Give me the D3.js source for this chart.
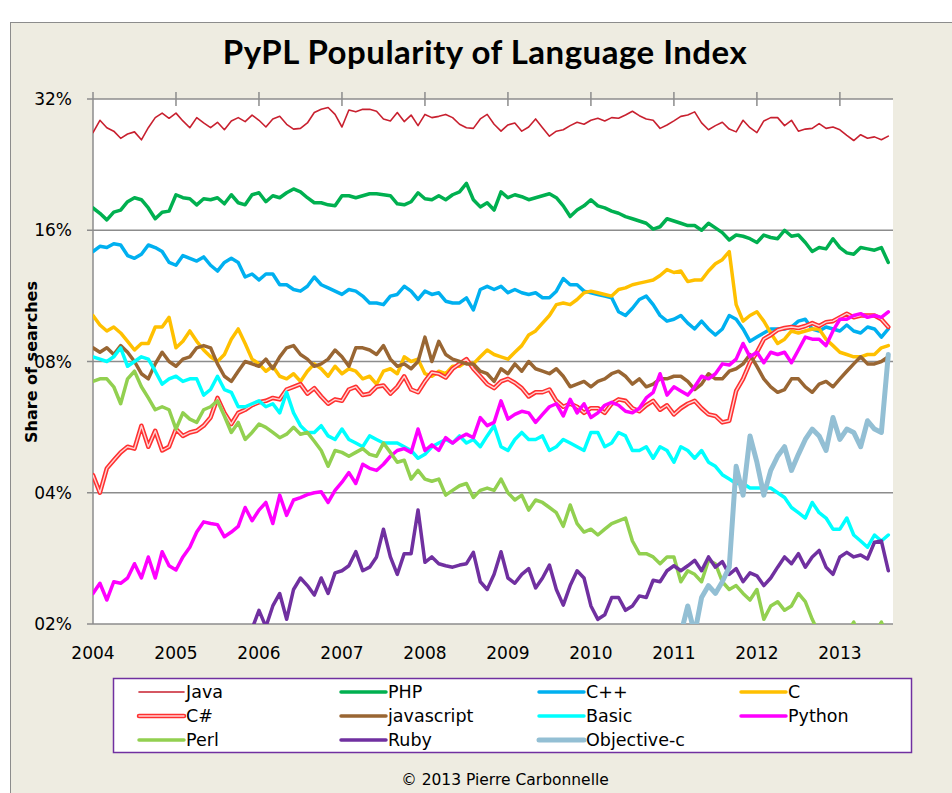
<!DOCTYPE html>
<html>
<head>
<meta charset="utf-8">
<script src="https://cdn.jsdelivr.net/npm/d3@7/dist/d3.min.js"></script>
<style>
body { margin: 0; background: #fff; }
text { font-family: "DejaVu Sans", sans-serif; fill: #000; }
.title { font-family: Lato, sans-serif; font-weight: bold; font-size: 33px; letter-spacing: 0.5px; }
.axisLabel { font-size: 17px; }
.yTitle { font-weight: bold; font-size: 16px; }
.legendText { font-size: 17.5px; }
.note { font-size: 15.5px; }
.grid { stroke: #8c8c8c; stroke-width: 1.5; }
.series { fill: none; stroke-linejoin: round; stroke-linecap: round; }
</style>
</head>
<body>
<svg id="chart" width="952" height="793"></svg>
<script>
// monthly share of searches (%), first value = Jan 2004 unless a start month is given
var years = [2004, 2005, 2006, 2007, 2008, 2009, 2010, 2011, 2012, 2013];
var yTicks = [2, 4, 8, 16, 32];

var javaShare = [
	26.8,28.6,27.5,27.0,26.0,26.6,26.9,25.8,27.5,29.0,
	29.7,28.9,29.7,28.5,27.5,29.0,28.2,27.5,28.3,27.2,
	28.5,29.0,28.4,29.4,28.6,27.6,28.8,29.2,28.0,27.3,
	27.4,28.2,29.8,30.3,30.6,29.5,27.6,30.2,29.9,30.3,
	30.3,30.0,28.8,28.5,29.8,28.4,29.4,27.8,29.5,29.0,
	29.2,29.5,29.0,28.0,27.5,27.4,28.8,29.5,28.0,27.0,
	27.9,28.2,27.0,27.6,28.8,27.5,26.3,27.0,27.2,27.8,
	28.3,28.0,28.6,28.9,28.5,29.0,28.9,29.4,30.0,29.3,
	28.8,28.6,27.4,27.9,28.5,29.2,29.4,29.9,28.2,27.2,
	27.8,28.3,27.3,26.9,28.6,27.5,26.8,28.5,29.0,29.0,
	27.8,28.6,27.0,27.3,27.4,28.1,27.4,27.6,27.2,26.4,
	25.7,26.5,26.0,26.2,25.8,26.3];

var phpShare = [
	18.0,17.5,16.9,17.6,17.8,18.6,19.0,18.8,18.0,17.0,
	17.6,17.7,19.3,19.0,18.9,18.3,18.9,18.8,19.0,18.4,
	19.3,18.5,18.3,19.3,19.5,18.6,19.2,19.0,19.5,19.9,
	19.6,19.0,18.5,18.5,18.3,18.2,19.2,19.2,19.0,19.2,
	19.4,19.4,19.3,19.2,18.4,18.3,18.6,19.5,18.9,18.8,
	19.2,18.8,19.3,19.6,20.5,18.8,18.1,18.5,17.8,19.6,
	19.0,19.3,19.1,18.8,19.0,19.2,19.4,19.0,18.2,17.2,
	17.8,18.2,18.8,18.2,18.0,17.7,17.5,17.2,17.0,16.8,
	16.6,16.1,16.3,17.0,16.8,16.6,16.4,16.4,16.0,16.6,
	16.2,15.8,15.2,15.6,15.5,15.3,15.0,15.6,15.4,15.3,
	16.0,15.5,15.6,15.0,14.3,14.6,14.5,15.3,14.6,14.2,
	14.1,14.6,14.5,14.4,14.6,13.5];

var cppShare = [
	14.3,14.7,14.6,14.9,14.8,14.0,13.8,14.1,14.8,14.6,
	14.3,13.5,13.3,14.0,13.8,13.6,13.9,13.3,12.9,13.5,
	13.8,13.5,12.5,12.7,12.3,12.7,12.7,12.0,12.0,11.7,
	11.6,11.9,12.5,12.0,11.8,11.6,11.4,11.7,11.6,11.3,
	10.9,10.9,10.8,11.3,11.4,11.9,11.6,11.1,11.6,11.4,
	11.5,11.0,10.9,10.9,11.2,10.5,11.7,11.9,11.7,11.9,
	11.5,11.7,11.5,11.4,11.5,11.2,11.2,11.6,12.4,12.0,
	12.0,11.6,11.5,11.4,11.3,11.2,10.4,10.2,10.6,11.1,
	11.3,10.8,10.2,9.9,10.0,10.2,9.8,9.5,9.9,9.5,
	9.2,9.5,10.2,10.0,9.5,8.9,9.1,9.3,9.5,9.5,
	9.5,9.6,9.9,10.0,9.5,9.4,9.6,9.5,9.4,9.7,
	9.4,9.3,9.6,9.5,9.1,9.5];

var cShare = [
	10.2,9.7,9.4,9.6,9.3,8.9,8.5,8.8,8.8,9.6,
	9.6,10.1,8.6,8.9,9.4,8.9,8.5,8.2,8.0,8.3,
	9.0,9.5,8.8,8.1,7.9,7.6,7.8,7.4,7.3,7.5,
	7.2,7.6,7.9,7.7,7.4,7.8,7.5,7.7,7.6,7.3,
	7.4,7.1,7.6,7.7,7.5,8.2,8.0,8.1,7.5,7.4,
	7.6,7.5,7.8,7.8,8.0,7.9,8.2,8.5,8.3,8.2,
	8.1,8.4,8.7,9.2,9.4,9.8,10.2,10.8,10.9,10.8,
	11.1,11.5,11.6,11.5,11.4,11.3,11.7,11.8,12.0,12.1,
	12.2,12.3,12.6,13.0,12.8,12.9,12.2,12.3,12.3,12.9,
	13.4,13.7,14.3,10.8,9.9,10.2,10.4,9.9,9.3,8.8,
	9.0,9.4,9.3,9.4,9.5,9.5,9.0,8.7,8.4,8.3,
	8.2,8.2,8.3,8.3,8.6,8.7];

var csharpShare = [
	4.39,4.00,4.55,4.75,4.95,5.10,5.05,5.70,5.10,5.55,
	5.00,5.10,5.60,5.40,5.50,5.55,5.70,5.95,6.60,6.10,
	5.75,6.10,6.20,6.35,6.45,6.50,6.60,6.55,6.90,7.00,
	7.10,6.75,6.95,6.65,6.40,6.55,6.50,6.90,7.00,6.70,
	6.75,7.00,7.05,6.75,7.00,7.40,6.90,6.80,7.20,7.55,
	7.50,7.35,7.70,7.90,8.10,7.70,7.40,7.10,6.95,7.20,
	7.30,7.15,6.95,6.65,6.80,6.80,6.90,6.50,6.30,6.40,
	6.30,6.10,6.25,6.25,6.10,6.40,6.55,6.50,6.25,6.15,
	6.35,6.50,6.20,6.35,6.05,6.25,6.40,6.50,6.25,6.05,
	6.00,5.80,5.85,6.85,7.30,7.95,8.40,9.00,9.20,9.45,
	9.55,9.60,9.55,9.65,9.80,9.65,9.85,9.90,10.1,10.3,
	10.1,10.2,10.2,10.2,10.0,9.6];

var jsShare = [
	8.6,8.4,8.6,8.3,8.7,8.4,8.0,7.5,7.3,7.9,
	8.4,8.0,7.8,8.1,8.2,8.6,8.7,8.6,7.9,7.4,
	7.2,7.6,8.0,7.9,7.8,8.1,7.7,8.2,8.6,8.7,
	8.3,8.1,7.8,7.9,8.1,8.5,8.2,7.8,8.6,8.6,
	8.5,8.3,8.7,8.1,7.8,7.9,7.7,8.0,9.1,8.0,
	8.9,8.3,8.1,8.0,7.9,7.9,7.6,7.5,7.2,7.7,
	7.5,7.9,7.6,8.0,7.7,7.6,7.5,7.7,7.4,7.0,
	7.1,7.2,7.0,7.2,7.3,7.5,7.6,7.4,7.1,7.3,
	7.0,7.1,7.3,7.3,7.4,7.4,7.2,6.9,7.1,7.5,
	7.3,7.3,7.6,7.7,7.9,8.3,7.8,7.3,7.0,6.8,
	6.9,7.3,7.3,7.0,6.8,7.1,7.2,7.0,7.3,7.6,
	7.9,8.2,7.9,7.9,8.0,8.2];

var basicShare = [
	8.2,8.1,8.0,8.2,8.6,7.8,8.0,8.2,8.1,7.6,
	7.1,7.3,7.4,7.2,7.3,7.3,6.7,6.9,7.4,6.9,
	6.8,6.3,6.3,6.4,6.5,6.3,6.4,6.1,6.8,6.1,
	5.7,5.5,5.5,5.7,5.4,5.3,5.6,5.3,5.2,5.1,
	5.4,5.3,5.2,5.2,5.2,5.1,5.0,4.8,4.9,5.1,
	5.2,5.3,5.2,5.4,5.2,5.3,5.1,5.4,5.7,5.1,
	5.0,5.3,5.5,5.3,5.3,5.4,5.0,5.1,5.3,5.2,
	5.1,5.0,5.5,5.5,5.1,5.2,5.5,5.4,5.0,5.0,
	5.1,4.8,5.1,5.0,4.7,5.1,5.0,4.8,5.0,4.7,
	4.6,4.4,4.3,4.2,4.2,4.1,4.1,4.1,4.1,4.0,
	3.9,3.7,3.6,3.5,3.8,3.6,3.5,3.3,3.3,3.5,
	3.2,3.1,3.0,3.2,3.1,3.2];

var pythonShare = [
	2.35,2.48,2.27,2.50,2.48,2.55,2.75,2.55,2.85,2.55,
	2.93,2.72,2.66,2.85,3.00,3.25,3.43,3.40,3.38,3.17,
	3.25,3.35,3.70,3.45,3.65,3.80,3.40,3.95,3.55,3.85,
	3.90,3.96,4.00,4.02,3.80,4.05,4.23,4.45,4.20,4.65,
	4.55,4.50,4.65,4.85,5.00,5.05,4.95,5.60,5.00,5.15,
	5.00,5.35,5.20,5.35,5.45,5.35,5.95,5.70,5.80,6.50,
	5.90,6.05,6.15,6.10,5.80,6.05,6.30,6.40,6.00,6.55,
	6.10,6.40,5.95,6.10,6.35,6.45,6.35,6.15,6.10,6.25,
	6.60,6.80,7.50,6.70,7.00,6.85,6.70,7.00,7.40,7.30,
	7.50,7.90,7.85,8.10,8.80,8.20,8.40,7.95,8.40,8.30,
	8.40,7.95,8.50,9.10,9.00,9.00,8.70,9.40,10.0,10.0,
	10.2,10.3,10.1,10.2,10.1,10.4];

var perlShare = [
	7.2,7.3,7.3,7.0,6.4,7.3,7.6,7.0,6.6,6.2,
	6.3,6.2,5.6,6.1,5.9,5.8,6.2,6.3,6.5,6.0,
	5.5,5.8,5.3,5.5,5.75,5.65,5.5,5.35,5.45,5.65,
	5.45,5.5,5.25,5.0,4.6,5.0,4.95,4.85,4.95,5.05,
	4.9,4.85,5.2,4.95,4.7,4.75,4.3,4.5,4.3,4.25,
	4.3,3.95,4.05,4.15,4.2,3.9,4.05,4.1,4.05,4.3,
	4.0,3.85,3.95,3.65,3.85,3.8,3.7,3.6,3.35,3.75,
	3.4,3.25,3.3,3.2,3.3,3.4,3.45,3.5,3.1,2.9,
	2.9,2.85,2.75,2.85,2.85,2.5,2.65,2.6,2.5,2.8,
	2.75,2.5,2.4,2.45,2.35,2.27,2.4,2.05,2.2,2.25,
	2.15,2.2,2.35,2.25,2.05,1.9,1.8,1.85,1.8,1.9,
	2.02,1.85,1.8,1.9,2.02,1.85];

// Ruby first shows up (from below 2%) in Dec 2005
var rubyStart = 23;
var rubyShare = [
	1.95,2.15,1.97,2.20,2.35,2.05,2.40,
	2.55,2.45,2.33,2.55,2.35,2.62,2.65,2.72,2.93,2.65,
	2.70,2.85,3.30,2.85,2.60,2.90,2.90,3.65,2.77,2.85,
	2.75,2.72,2.70,2.73,2.75,2.92,2.50,2.40,2.60,2.93,
	2.55,2.48,2.60,2.68,2.42,2.55,2.73,2.40,2.21,2.45,
	2.65,2.55,2.20,2.05,2.10,2.30,2.30,2.15,2.20,2.32,
	2.30,2.52,2.50,2.65,2.72,2.65,2.72,2.80,2.65,2.85,
	2.70,2.78,2.60,2.68,2.50,2.62,2.58,2.45,2.55,2.70,
	2.85,2.75,2.90,2.70,2.85,2.95,2.70,2.60,2.85,2.92,
	2.85,2.88,2.82,3.08,3.10,2.65];

// Objective-c first shows up in Feb 2011
var objcStart = 85;
var objcShare = [
	1.9,2.2,1.9,2.3,2.45,2.35,2.5,2.7,4.6,3.95,
	5.4,4.7,3.95,4.5,4.85,5.1,4.5,4.9,5.3,5.6,
	5.4,5.0,5.95,5.3,5.6,5.5,5.1,5.85,5.6,5.5,
	8.3];

var shares = {
	"Java": [0, javaShare], "PHP": [0, phpShare], "C++": [0, cppShare],
	"C": [0, cShare], "C#": [0, csharpShare], "javascript": [0, jsShare],
	"Basic": [0, basicShare], "Python": [0, pythonShare], "Perl": [0, perlShare],
	"Ruby": [rubyStart, rubyShare], "Objective-c": [objcStart, objcShare]
};
// drawing order (legend order, row by row)
var drawOrder = ["Java", "PHP", "C++", "C", "C#", "javascript", "Basic",
				 "Python", "Perl", "Ruby", "Objective-c"];

var lineStyle = {
	"Java": ["#c8202f", 1.6], "PHP": ["#00b050", 3.5], "C++": ["#00b0f0", 3.5],
	"C": ["#ffc000", 3.5], "C#": ["#ff3030", 4.5], "javascript": ["#996633", 3.5],
	"Basic": ["#00ffff", 3.5], "Python": ["#ff00ff", 3.5], "Perl": ["#92d050", 3.5],
	"Ruby": ["#7030a0", 3.5], "Objective-c": ["#93bfd4", 5]
};

var width = 952;
var height = 793;
var plotLeft = 93;
var plotRight = 893;
var plotTop = 99;
var plotBottom = 624;

var svg = d3.select("#chart");

var x = d3.scaleLinear()
.domain([2004, 2013.64])
.range([plotLeft, plotRight]);

var y = d3.scaleLog()
.base(2)
.domain([2, 32])
.range([plotBottom, plotTop]);

// chart area
svg.append("rect")
.attr("x", 10.5)
.attr("y", 22.5)
.attr("width", width)
.attr("height", height)
.attr("fill", "#eeece1")
.attr("stroke", "#8c8c8c");

svg.append("rect")
.attr("x", plotLeft)
.attr("y", plotTop)
.attr("width", plotRight-plotLeft)
.attr("height", plotBottom-plotTop)
.attr("fill", "#fff");

svg.append("text")
.attr("class", "title")
.attr("x", 485)
.attr("y", 64)
.attr("text-anchor", "middle")
.text("PyPL Popularity of Language Index");

// horizontal gridlines, ticking out left of the axis
svg.append("g")
.selectAll("line")
.data(yTicks)
.join("line")
.attr("class", "grid")
.attr("x1", plotLeft-6)
.attr("x2", plotRight)
.attr("y1", function(d) { return y(d); })
.attr("y2", function(d) { return y(d); });

svg.append("line")
.attr("class", "grid")
.attr("x1", plotLeft)
.attr("x2", plotLeft)
.attr("y1", plotTop-7)
.attr("y2", plotBottom);

// year ticks sit on the top line
svg.append("g")
.selectAll("line")
.data(years.slice(1))
.join("line")
.attr("class", "grid")
.attr("x1", function(d) { return x(d); })
.attr("x2", function(d) { return x(d); })
.attr("y1", plotTop-7)
.attr("y2", plotTop+7);

svg.append("g")
.selectAll("text")
.data(yTicks)
.join("text")
.attr("class", "axisLabel")
.attr("x", plotLeft-21)
.attr("y", function(d) { return y(d)+6; })
.attr("text-anchor", "end")
.text(function(d) { return d3.format("02d")(d)+"%"; });

svg.append("g")
.selectAll("text")
.data(years)
.join("text")
.attr("class", "axisLabel")
.attr("x", function(d) { return x(d); })
.attr("y", plotBottom+35)
.attr("text-anchor", "middle")
.text(function(d) { return d; });

svg.append("text")
.attr("class", "yTitle")
.attr("transform", "translate("+[37,362]+") rotate(-90)")
.attr("text-anchor", "middle")
.text("Share of searches");

// series
svg.append("clipPath")
.attr("id", "plotClip")
.append("rect")
.attr("x", plotLeft)
.attr("y", plotTop)
.attr("width", plotRight-plotLeft)
.attr("height", plotBottom-plotTop);

var line = d3.line()
.x(function(d) { return x(d.t); })
.y(function(d) { return y(d.v); });

function points(name) {
	var start = shares[name][0];
	return shares[name][1].map(function(v, i) {
		return {t: 2004+(start+i)/12, v: v};
	});
}

var gLines = svg.append("g")
.attr("clip-path", "url(#plotClip)");

function drawStroke(g, name, d) {
	g.append("path")
	.attr("class", "series")
	.attr("d", d)
	.attr("stroke", lineStyle[name][0])
	.attr("stroke-width", lineStyle[name][1]);
	if (name == "C#") {
		// double line
		g.append("path")
		.attr("class", "series")
		.attr("d", d)
		.attr("stroke", "#ffd3d3")
		.attr("stroke-width", 1.4);
	}
}

drawOrder.forEach(function(name) {
	drawStroke(gLines, name, line(points(name)));
});

// legend
var gLegend = svg.append("g");
gLegend.append("rect")
.attr("x", 113.5)
.attr("y", 678.5)
.attr("width", 798)
.attr("height", 74)
.attr("fill", "#fff")
.attr("stroke", "#7030a0")
.attr("stroke-width", 1.5);

var legendCols = [139, 341, 539, 741];
var legendRowY = 692;
var legendPadding = 24;

drawOrder.forEach(function(name, i) {
	var lx = legendCols[i%4];
	var ly = legendRowY+Math.floor(i/4)*legendPadding;
	drawStroke(gLegend, name, "M"+lx+","+ly+" L"+(lx+45)+","+ly);
	gLegend.append("text")
	.attr("class", "legendText")
	.attr("x", lx+47)
	.attr("y", ly+6)
	.text(name);
});

svg.append("text")
.attr("class", "note")
.attr("x", 505)
.attr("y", 785)
.attr("text-anchor", "middle")
.text("\u00a9 2013 Pierre Carbonnelle");
</script>
</body>
</html>
